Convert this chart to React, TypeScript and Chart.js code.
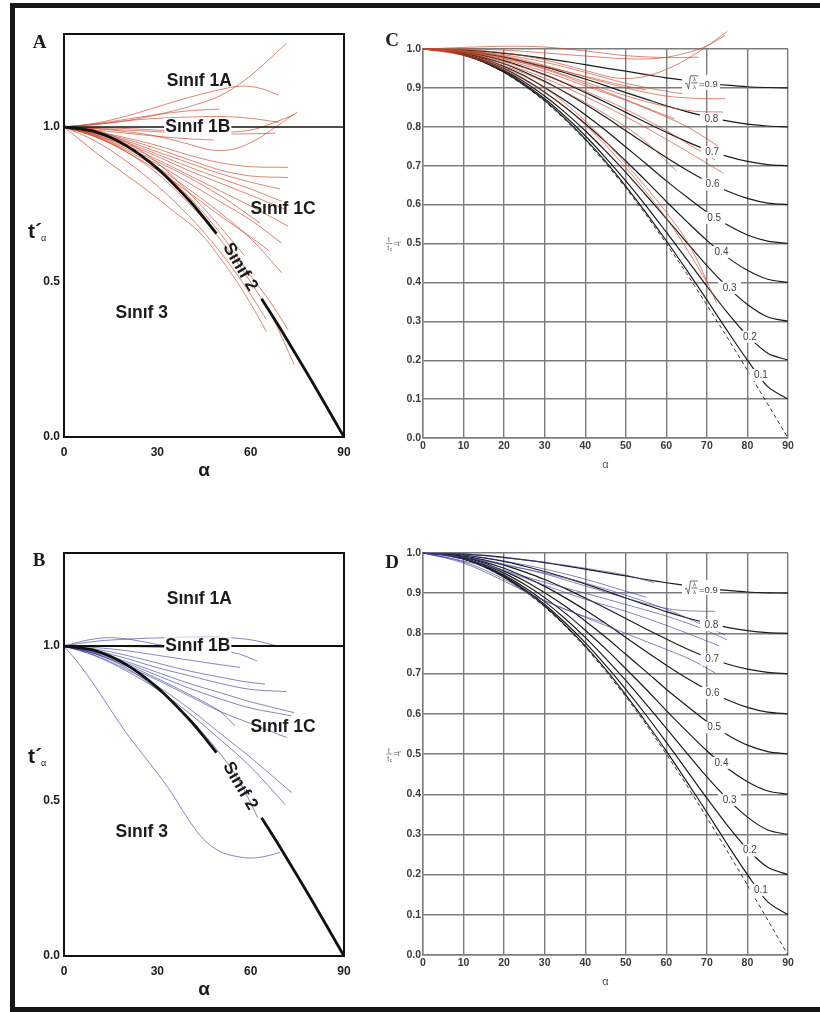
import React, { useEffect, useRef } from "react";
import { Chart, registerables } from "chart.js";

Chart.register(...registerables);

// ---------------- DATA ----------------
const X_TICKS_AB = [0, 30, 60, 90];
const Y_TICKS_AB = [0, 0.5, 1.0];
const X_TICKS_CD = [0, 10, 20, 30, 40, 50, 60, 70, 80, 90];
const Y_TICKS_CD = [0, 0.1, 0.2, 0.3, 0.4, 0.5, 0.6, 0.7, 0.8, 0.9, 1.0];

// reference family (panels C, D): t' against alpha for each sqrt(l2/l1)
const ALPHA_K = [0, 5, 10, 15, 20, 25, 30, 35, 40, 45, 50, 55, 60, 65, 70, 75, 80, 85, 90];
const K_09 = [1, 0.999, 0.997, 0.994, 0.989, 0.983, 0.976, 0.968, 0.96, 0.951, 0.943, 0.934, 0.926, 0.919, 0.912, 0.907, 0.903, 0.901, 0.9];
const K_08 = [1, 0.999, 0.995, 0.988, 0.979, 0.967, 0.954, 0.939, 0.923, 0.906, 0.888, 0.871, 0.854, 0.839, 0.826, 0.815, 0.807, 0.802, 0.8];
const K_07 = [1, 0.998, 0.992, 0.983, 0.97, 0.953, 0.934, 0.912, 0.888, 0.863, 0.837, 0.811, 0.786, 0.762, 0.741, 0.724, 0.711, 0.703, 0.7];
const K_06 = [1, 0.998, 0.99, 0.978, 0.962, 0.941, 0.917, 0.889, 0.858, 0.825, 0.79, 0.755, 0.721, 0.689, 0.66, 0.635, 0.616, 0.604, 0.6];
const K_05 = [1, 0.997, 0.989, 0.975, 0.955, 0.931, 0.901, 0.868, 0.831, 0.791, 0.748, 0.705, 0.661, 0.62, 0.581, 0.548, 0.522, 0.506, 0.5];
const K_04 = [1, 0.997, 0.987, 0.971, 0.95, 0.922, 0.889, 0.851, 0.808, 0.762, 0.712, 0.661, 0.608, 0.557, 0.508, 0.465, 0.431, 0.408, 0.4];
const K_03 = [1, 0.997, 0.986, 0.969, 0.945, 0.915, 0.879, 0.837, 0.79, 0.738, 0.683, 0.624, 0.564, 0.503, 0.443, 0.389, 0.343, 0.311, 0.3];
const K_02 = [1, 0.996, 0.985, 0.967, 0.942, 0.91, 0.872, 0.827, 0.777, 0.721, 0.661, 0.597, 0.529, 0.46, 0.39, 0.323, 0.263, 0.218, 0.2];
const K_01 = [1, 0.996, 0.985, 0.966, 0.94, 0.907, 0.868, 0.821, 0.769, 0.711, 0.647, 0.579, 0.507, 0.432, 0.355, 0.276, 0.2, 0.132, 0.1];
const K_DASH = [1, 0.996, 0.985, 0.966, 0.94, 0.906, 0.866, 0.819, 0.766, 0.707, 0.643, 0.574, 0.5, 0.423, 0.342, 0.259, 0.174, 0.087, 0];
const K_CURVES = [K_09, K_08, K_07, K_06, K_05, K_04, K_03, K_02, K_01];
const K_LABELS = ["0.9", "0.8", "0.7", "0.6", "0.5", "0.4", "0.3", "0.2", "0.1"];
const K_LABEL_ALPHA = [68.3, 71.1, 71.3, 71.4, 71.8, 73.6, 75.6, 80.6, 83.3];
const K_LABEL_T = [0.913, 0.82, 0.735, 0.652, 0.566, 0.478, 0.386, 0.26, 0.162];

// class boundaries (panels A, B)
const LINE_1B = [[0, 1], [90, 1]];
const LINE_2 = [[0, 1], [10, 0.985], [20, 0.94], [30, 0.866], [40, 0.766], [45, 0.707], [49, 0.656], [56, null], [63.5, 0.446], [70, 0.342], [80, 0.174], [90, 0]];

// class labels (alpha, t')
const LABEL_NAMES = ["Sınıf 1A", "Sınıf 1B", "Sınıf 1C", "Sınıf 2", "Sınıf 3"];
const LABEL_ALPHA = [43.5, 43, 70.4, 56.6, 25];
const LABEL_T_A = [1.149, 1.0, 0.735, 0.548, 0.4];
const LABEL_T_B = [1.152, 1.0, 0.738, 0.548, 0.398];

// panel A red fold curves [alpha, t']
const RED_A_UP = [
  [[0, 1], [10, 1.008], [20, 1.02], [30, 1.04], [40, 1.065], [50, 1.1], [58, 1.15], [65, 1.21], [71.5, 1.27]],
  [[0, 1], [10, 1.012], [20, 1.035], [30, 1.065], [40, 1.095], [50, 1.12], [57, 1.132], [63, 1.125], [69, 1.103]],
  [[0, 1], [10, 1.01], [20, 1.025], [30, 1.04], [40, 1.052], [50, 1.058]],
  [[0, 1], [10, 1.008], [20, 1.02], [30, 1.028], [40, 1.032], [50, 1.034], [60, 1.028], [69, 1.015]],
  [[0, 1], [10, 0.995], [20, 0.985], [30, 0.97], [40, 0.945], [48, 0.925], [55, 0.93], [62, 0.96], [68, 1.0], [75, 1.048]],
  [[0, 1], [10, 0.998], [20, 0.995], [30, 0.99], [40, 0.985], [50, 0.983], [60, 0.99], [67, 1.012], [74, 1.04]],
  [[0, 1], [10, 0.995], [20, 0.99], [30, 0.985], [40, 0.98], [50, 0.978], [60, 0.978], [68, 0.98]],
  [[0, 1], [10, 0.99], [20, 0.98], [30, 0.97], [40, 0.962], [48, 0.958]],
];
const RED_A_1C = [
  [[0, 1], [10, 0.985], [20, 0.965], [30, 0.94], [40, 0.91], [50, 0.885], [60, 0.872], [72, 0.87]],
  [[0, 1], [10, 0.983], [20, 0.96], [30, 0.93], [40, 0.895], [50, 0.862], [60, 0.842], [72, 0.837]],
  [[0, 1], [10, 0.98], [20, 0.955], [30, 0.92], [40, 0.885], [50, 0.85], [60, 0.822], [69.5, 0.8]],
  [[0, 1], [10, 0.98], [20, 0.95], [30, 0.912], [40, 0.872], [50, 0.835], [60, 0.8], [70, 0.76]],
  [[0, 1], [10, 0.978], [20, 0.945], [30, 0.905], [40, 0.86], [50, 0.82], [60, 0.78], [71, 0.735]],
  [[0, 1], [10, 0.975], [20, 0.94], [30, 0.895], [40, 0.845], [50, 0.795], [60, 0.745], [72, 0.68]],
  [[0, 1], [10, 0.975], [20, 0.935], [30, 0.888], [40, 0.838], [50, 0.78], [56, 0.74], [63, 0.69]],
  [[0, 1], [10, 0.972], [20, 0.93], [30, 0.88], [40, 0.82], [50, 0.76], [60, 0.7], [70, 0.625]],
  [[0, 1], [10, 0.97], [20, 0.925], [30, 0.87], [40, 0.8], [50, 0.725], [60, 0.64], [70, 0.53]],
  [[0, 1], [10, 0.968], [20, 0.92], [30, 0.86], [40, 0.79], [50, 0.715], [60, 0.645], [66, 0.6]],
];
const RED_A_2 = [
  [[0, 1], [10, 0.98], [20, 0.94], [30, 0.872], [40, 0.776], [50, 0.66], [60, 0.52], [66, 0.44], [72, 0.346]],
  [[0, 1], [10, 0.97], [20, 0.92], [30, 0.85], [40, 0.755], [50, 0.64], [60, 0.5], [67, 0.385], [74, 0.233]],
  [[0, 1], [11.6, 0.907], [20, 0.845], [27.6, 0.789], [35, 0.73], [43.7, 0.659], [50, 0.58], [54.4, 0.519], [60, 0.43], [65, 0.341]],
  [[0, 1], [10, 0.955], [20, 0.89], [30, 0.81], [40, 0.715], [50, 0.6], [58, 0.49], [65, 0.38]],
  [[0, 1], [10, 0.99], [20, 0.952], [30, 0.885], [40, 0.79], [50, 0.68], [58, 0.585]],
];

// panel C red fold curves
const RED_C = [
  [[0, 1], [10, 0.998], [20, 0.99], [30, 0.972], [40, 0.945], [48, 0.925], [55, 0.93], [62, 0.957], [68, 0.993], [75, 1.045]],
  [[0, 1], [10, 1.0], [20, 0.997], [30, 0.99], [40, 0.982], [50, 0.975], [58, 0.976], [65, 0.99], [70, 1.008], [74.5, 1.035]],
  [[0, 1], [10, 1.004], [20, 1.007], [30, 1.005], [40, 0.995], [50, 0.983], [60, 0.978], [68, 0.979]],
  [[0, 1], [10, 0.995], [20, 0.982], [30, 0.958], [40, 0.928], [50, 0.9], [60, 0.879], [68, 0.873], [74.5, 0.872]],
  [[0, 1], [10, 0.994], [20, 0.977], [30, 0.95], [40, 0.915], [50, 0.88], [60, 0.852], [67, 0.84], [74, 0.838]],
  [[0, 1], [10, 0.992], [20, 0.972], [30, 0.942], [40, 0.905], [50, 0.868], [60, 0.825], [66, 0.795], [73.5, 0.745]],
  [[0, 1], [10, 0.99], [20, 0.967], [30, 0.933], [40, 0.892], [50, 0.845], [60, 0.79], [66, 0.752], [72, 0.715]],
  [[0, 1], [10, 0.99], [20, 0.963], [30, 0.925], [40, 0.878], [50, 0.826], [60, 0.768], [67, 0.725], [74, 0.681]],
  [[0, 1], [10, 0.987], [20, 0.957], [30, 0.915], [40, 0.862], [50, 0.8], [56, 0.752], [62.5, 0.686]],
  [[0, 1], [10, 0.993], [20, 0.975], [30, 0.948], [40, 0.91], [50, 0.87], [56, 0.845], [62, 0.82]],
  [[0, 1], [10, 0.985], [20, 0.952], [30, 0.9], [40, 0.815], [50, 0.705], [60, 0.58], [66, 0.49], [72.4, 0.347]],
  [[0, 1], [10, 0.983], [20, 0.946], [30, 0.888], [40, 0.805], [50, 0.695], [60, 0.565], [66, 0.47], [70, 0.4]],
  [[0, 1], [10, 0.996], [20, 0.985], [30, 0.966], [40, 0.94], [50, 0.912], [58, 0.895], [64, 0.885]],
  [[0, 1], [10, 0.995], [20, 0.98], [30, 0.955], [40, 0.93], [50, 0.905], [55, 0.895]],
];

// panel B blue fold curves
const BLUE_B = [
  [[0, 1], [10, 1.015], [20, 1.022], [30, 1.026], [40, 1.028], [50, 1.028], [60, 1.02], [68.6, 1.0]],
  [[0, 1], [8, 1.02], [15, 1.027], [22, 1.02], [30, 1.005], [36, 0.995]],
  [[0, 1], [10, 1.0], [20, 0.998], [30, 0.996], [40, 0.992], [50, 0.985], [56, 0.975], [62, 0.952]],
  [[0, 1], [10, 0.995], [20, 0.985], [30, 0.97], [40, 0.955], [50, 0.94], [56.6, 0.931]],
  [[0, 1], [10, 0.99], [20, 0.97], [30, 0.945], [40, 0.92], [50, 0.9], [58, 0.885], [64.6, 0.877]],
  [[0, 1], [10, 0.985], [20, 0.96], [30, 0.93], [40, 0.905], [50, 0.88], [60, 0.86], [71.5, 0.853]],
  [[0, 1], [10, 0.98], [20, 0.95], [30, 0.915], [40, 0.88], [50, 0.85], [60, 0.82], [74, 0.785]],
  [[0, 1], [10, 0.978], [20, 0.945], [30, 0.905], [40, 0.865], [50, 0.83], [60, 0.8], [73, 0.775]],
  [[0, 1], [10, 0.975], [20, 0.94], [30, 0.895], [40, 0.845], [50, 0.79], [55, 0.742]],
  [[0, 1], [10, 0.975], [20, 0.935], [30, 0.89], [40, 0.84], [50, 0.79], [60, 0.75], [71.5, 0.705]],
  [[0, 1], [10, 0.97], [20, 0.925], [30, 0.87], [40, 0.8], [50, 0.72], [60, 0.64], [73.2, 0.527]],
  [[0, 1], [10, 0.968], [20, 0.92], [30, 0.86], [40, 0.785], [50, 0.7], [60, 0.61], [71, 0.489]],
  [[0, 1], [10, 0.975], [20, 0.93], [30, 0.86], [40, 0.77], [50, 0.655], [56, 0.57], [62.3, 0.446]],
  [[0, 1], [5, 0.94], [10, 0.87], [20, 0.72], [30, 0.59], [35, 0.52], [40, 0.44], [45, 0.375], [50, 0.338], [55, 0.322], [60, 0.316], [65, 0.322], [69.5, 0.335]],
];

// panel D blue fold curves
const BLUE_D = [
  [[0, 1], [10, 0.998], [20, 0.988], [30, 0.977], [40, 0.962], [50, 0.945], [57, 0.926]],
  [[0, 1], [10, 0.99], [20, 0.972], [30, 0.948], [40, 0.918], [50, 0.888], [60, 0.862], [66, 0.856], [72, 0.855]],
  [[0, 1], [10, 0.99], [20, 0.97], [30, 0.95], [40, 0.925], [50, 0.895], [60, 0.86], [67, 0.83], [74.5, 0.796]],
  [[0, 1], [10, 0.985], [20, 0.957], [30, 0.927], [40, 0.9], [50, 0.872], [60, 0.843], [68, 0.815], [75, 0.784]],
  [[0, 1], [10, 0.98], [20, 0.955], [30, 0.92], [40, 0.885], [50, 0.855], [60, 0.82], [66, 0.797], [73, 0.769]],
  [[0, 1], [10, 0.978], [20, 0.935], [26, 0.9], [40, 0.84], [50, 0.8], [60, 0.76], [66, 0.735], [72, 0.702]],
  [[0, 1], [10, 0.975], [20, 0.93], [27, 0.895], [35, 0.86], [45, 0.825]],
  [[0, 1], [10, 0.995], [20, 0.98], [30, 0.96], [40, 0.935], [50, 0.905], [55, 0.89]],
];

// ---------------- STYLE ----------------
const SANS = '"Liberation Sans", Arial, sans-serif';
const NARROW = '"Liberation Sans Narrow", "Liberation Sans", Arial, sans-serif';
const SERIF = '"Liberation Serif", "Times New Roman", serif';
const INK = "#1c1c1c";
const GRID = "#7c7c7c";
const RED = "rgba(198, 70, 42, 0.72)";
const BLUE = "rgba(62, 62, 150, 0.7)";
const LABEL_FONT = `bold 17.5px ${SANS}`;
const LETTER_FONT = `bold 19px ${SERIF}`;

// ---------------- HELPERS ----------------
function lineDs(points: any[], color: string, width: number, extra: any = {}) {
  return {
    data: points.map(([x, y]: any) => ({ x, y })),
    borderColor: color,
    borderWidth: width,
    pointRadius: 0,
    fill: false,
    tension: 0.35,
    spanGaps: false,
    ...extra,
  };
}

function familyDatasets() {
  const ds: any[] = K_CURVES.map((vals) =>
    lineDs(ALPHA_K.map((a, i) => [a, vals[i]]), INK, 1.2, { tension: 0.3 })
  );
  ds.push(lineDs(ALPHA_K.map((a, i) => [a, K_DASH[i]]), "#222", 0.9, { borderDash: [4, 3], tension: 0 }));
  return ds;
}

function drawTxt(ctx: any, text: string, px: number, py: number, font: string, color: string, rot = 0, bgx = -1, bgy = 0) {
  ctx.save();
  ctx.translate(px, py);
  if (rot) ctx.rotate((rot * Math.PI) / 180);
  ctx.font = font;
  ctx.textAlign = "center";
  ctx.textBaseline = "middle";
  if (bgx >= 0) {
    const w = ctx.measureText(text).width;
    const m = font.match(/([\d.]+)px/);
    const h = m ? parseFloat(m[1]) : 10;
    ctx.fillStyle = "#fff";
    ctx.fillRect(-w / 2 - bgx, -h * 0.5 - bgy, w + 2 * bgx, h + 2 * bgy);
  }
  ctx.fillStyle = color;
  ctx.fillText(text, 0, 0);
  ctx.restore();
}

function drawLam(ctx: any, px: number, py: number, val: string) {
  ctx.save();
  ctx.fillStyle = "#fff";
  ctx.fillRect(px - 18, py - 8, 38, 15);
  const x0 = px - 15;
  ctx.strokeStyle = "#444";
  ctx.lineWidth = 0.8;
  ctx.beginPath();
  ctx.moveTo(x0, py + 1);
  ctx.lineTo(x0 + 1.5, py);
  ctx.lineTo(x0 + 3.5, py + 6);
  ctx.lineTo(x0 + 5.5, py - 7);
  ctx.lineTo(x0 + 13, py - 7);
  ctx.stroke();
  ctx.beginPath();
  ctx.moveTo(x0 + 6.5, py);
  ctx.lineTo(x0 + 12.5, py);
  ctx.stroke();
  ctx.fillStyle = "#444";
  ctx.font = `6px ${SANS}`;
  ctx.textAlign = "center";
  ctx.textBaseline = "alphabetic";
  ctx.fillText("λ", x0 + 9.5, py - 1.5);
  ctx.fillText("λ", x0 + 9.5, py + 6);
  ctx.font = `9.5px ${NARROW}`;
  ctx.textAlign = "left";
  ctx.textBaseline = "middle";
  ctx.fillText("=" + val, x0 + 14, py + 2);
  ctx.restore();
}

function annotPlugin(items: any[], drawBox: boolean) {
  return {
    id: "annot",
    beforeDatasetsDraw(chart: any) {
      if (!drawBox) return;
      const { ctx, chartArea: ca } = chart;
      ctx.save();
      ctx.strokeStyle = "#111";
      ctx.lineWidth = 2;
      ctx.strokeRect(ca.left, ca.top, ca.right - ca.left, ca.bottom - ca.top);
      ctx.restore();
    },
    afterDatasetsDraw(chart: any) {
      const { ctx, chartArea: ca, scales } = chart;
      for (const it of items) {
        const px = it.rel ? ca.left + it.rel[0] : scales.x.getPixelForValue(it.x);
        const py = it.rel ? ca.top + it.rel[1] : scales.y.getPixelForValue(it.y);
        if (it.k === "lam") {
          drawLam(ctx, px, py, it.text);
        } else if (it.k === "tA") {
          ctx.save();
          ctx.fillStyle = INK;
          ctx.textAlign = "left";
          ctx.textBaseline = "alphabetic";
          ctx.font = `bold 21px ${SANS}`;
          ctx.fillText("t´", px, py);
          ctx.font = `9px ${SANS}`;
          ctx.fillText("α", px + 13, py + 3);
          ctx.restore();
        } else if (it.k === "ytC") {
          const yx = ca.left + it.dx;
          const yy = scales.y.getPixelForValue(it.y);
          ctx.save();
          ctx.fillStyle = "#555";
          ctx.strokeStyle = "#555";
          ctx.lineWidth = 0.6;
          ctx.font = `6.5px ${SANS}`;
          ctx.textAlign = "center";
          ctx.textBaseline = "alphabetic";
          ctx.fillText("t", yx, yy - 1.5);
          ctx.fillText("t", yx - 0.8, yy + 6.5);
          ctx.font = `4.5px ${SANS}`;
          ctx.fillText("c", yx + 1.8, yy + 7.5);
          ctx.beginPath();
          ctx.moveTo(yx - 3, yy);
          ctx.lineTo(yx + 3.5, yy);
          ctx.stroke();
          ctx.font = `7px ${SANS}`;
          ctx.textAlign = "left";
          ctx.textBaseline = "middle";
          ctx.fillText("=t'", yx + 4.5, yy + 0.5);
          ctx.restore();
        } else {
          drawTxt(ctx, it.text, px, py, it.font, it.color || INK, it.rot || 0, it.bgx ?? -1, it.bgy ?? 0);
        }
      }
    },
  };
}

function abConfig(datasets: any[], items: any[], pad: any) {
  return {
    type: "line",
    data: { datasets },
    options: {
      animation: false,
      responsive: false,
      devicePixelRatio: 1,
      events: [],
      layout: { padding: pad },
      plugins: { legend: { display: false }, tooltip: { enabled: false } },
      scales: {
        x: {
          type: "linear",
          min: 0,
          max: 90,
          afterBuildTicks: (s: any) => { s.ticks = X_TICKS_AB.map((v) => ({ value: v })); },
          afterFit: (s: any) => { s.height = 45; s.paddingLeft = 0; s.paddingRight = 0; },
          grid: { display: false, drawTicks: false },
          border: { display: false },
          ticks: { font: { family: SANS, size: 12, weight: "bold" }, color: INK, padding: 8, maxRotation: 0, autoSkip: false },
          title: { display: true, text: "α", font: { family: SANS, size: 19, weight: "bold" }, color: INK, padding: 0 },
        },
        y: {
          type: "linear",
          min: 0,
          max: 1.3,
          afterBuildTicks: (s: any) => { s.ticks = Y_TICKS_AB.map((v) => ({ value: v })); },
          afterFit: (s: any) => { s.width = 50; s.paddingTop = 0; s.paddingBottom = 0; },
          grid: { display: false, drawTicks: false },
          border: { display: false },
          ticks: { font: { family: SANS, size: 12, weight: "bold" }, color: INK, padding: 4, callback: (v: any) => Number(v).toFixed(1) },
        },
      },
    },
    plugins: [annotPlugin(items, true)],
  };
}

function cdConfig(datasets: any[], items: any[], pad: any) {
  return {
    type: "line",
    data: { datasets },
    options: {
      animation: false,
      responsive: false,
      devicePixelRatio: 1,
      events: [],
      layout: { padding: pad },
      plugins: { legend: { display: false }, tooltip: { enabled: false } },
      scales: {
        x: {
          type: "linear",
          min: 0,
          max: 90,
          afterBuildTicks: (s: any) => { s.ticks = X_TICKS_CD.map((v) => ({ value: v })); },
          afterFit: (s: any) => { s.height = 34; s.paddingLeft = 0; s.paddingRight = 0; },
          grid: { color: GRID, lineWidth: 1.4, drawTicks: false },
          border: { color: GRID, width: 1.4 },
          ticks: { font: { family: NARROW, size: 10.5, weight: "bold" }, color: "#3a3a3a", padding: 2, maxRotation: 0, autoSkip: false },
          title: { display: true, text: "α", font: { family: SANS, size: 11 }, color: "#555", padding: 0 },
        },
        y: {
          type: "linear",
          min: 0,
          max: 1,
          afterBuildTicks: (s: any) => { s.ticks = Y_TICKS_CD.map((v) => ({ value: v })); },
          afterFit: (s: any) => { s.width = 43; s.paddingTop = 0; s.paddingBottom = 0; },
          grid: { color: GRID, lineWidth: 1.4, drawTicks: false },
          border: { color: GRID, width: 1.4 },
          ticks: { font: { family: NARROW, size: 10.5, weight: "bold" }, color: "#3a3a3a", padding: 2, callback: (v: any) => Number(v).toFixed(1) },
        },
      },
    },
    plugins: [annotPlugin(items, false)],
  };
}

function classItems(tvals: number[]) {
  return LABEL_NAMES.map((name, i) => ({
    x: LABEL_ALPHA[i],
    y: tvals[i],
    text: name,
    font: LABEL_FONT,
    rot: i === 3 ? 60 : 0,
    bgx: i === 1 ? 1 : -1,
    bgy: 0,
  }));
}

function familyItems() {
  return K_LABELS.map((lab, i) =>
    i === 0
      ? { k: "lam", x: K_LABEL_ALPHA[i], y: K_LABEL_T[i], text: lab }
      : { x: K_LABEL_ALPHA[i], y: K_LABEL_T[i], text: lab, font: `10px ${NARROW}`, color: "#444", bgx: 4.5, bgy: 1 }
  );
}

const redOpts = { clip: false };

function makeA() {
  const ds = [
    lineDs(LINE_2, "#111", 2.8, { tension: 0.3 }),
    lineDs(LINE_1B, "#111", 1.6, { tension: 0 }),
    ...RED_A_UP.map((c) => lineDs(c, RED, 0.9, redOpts)),
    ...RED_A_1C.map((c) => lineDs(c, RED, 0.9, redOpts)),
    ...RED_A_2.map((c) => lineDs(c, RED, 0.9, redOpts)),
  ];
  const items = [
    ...classItems(LABEL_T_A),
    { rel: [-24.5, 9.5], text: "A", font: LETTER_FONT },
    { k: "tA", rel: [-36, 204] },
  ];
  return abConfig(ds, items, { top: 26, left: 0, right: 40, bottom: 16 });
}

function makeB() {
  const ds = [
    lineDs(LINE_2, "#111", 2.8, { tension: 0.3 }),
    lineDs(LINE_1B, "#111", 1.8, { tension: 0 }),
    ...BLUE_B.map((c) => lineDs(c, BLUE, 0.9, redOpts)),
  ];
  const items = [
    ...classItems(LABEL_T_B),
    { rel: [-25, 8.5], text: "B", font: LETTER_FONT },
    { k: "tA", rel: [-36, 210] },
  ];
  return abConfig(ds, items, { top: 45, left: 0, right: 40, bottom: 7 });
}

function makeC() {
  const ds = [...RED_C.map((c) => lineDs(c, RED, 0.9, redOpts)), ...familyDatasets()];
  const items = [
    ...familyItems(),
    { rel: [-31, -7.5], text: "C", font: LETTER_FONT },
    { k: "ytC", dx: -34, y: 0.5 },
  ];
  return cdConfig(ds, items, { top: 41, left: 0, right: 22, bottom: 26 });
}

function makeD() {
  const ds = [...BLUE_D.map((c) => lineDs(c, BLUE, 0.9, redOpts)), ...familyDatasets()];
  const items = [
    ...familyItems(),
    { rel: [-31, 10.5], text: "D", font: LETTER_FONT },
    { k: "ytC", dx: -34, y: 0.5 },
  ];
  return cdConfig(ds, items, { top: 45, left: 0, right: 22, bottom: 9 });
}

function Panel(props: { left: number; top: number; width: number; height: number; make: () => any }) {
  const ref = useRef<HTMLCanvasElement>(null);
  useEffect(() => {
    const chart = new Chart(ref.current as any, props.make());
    return () => chart.destroy();
  }, []);
  return (
    <canvas
      ref={ref}
      width={props.width}
      height={props.height}
      style={{ position: "absolute", left: props.left, top: props.top, width: props.width, height: props.height }}
    />
  );
}

export default function App() {
  return (
    <div style={{ position: "absolute", left: 0, top: 0, width: 820, height: 1012, overflow: "hidden", background: "#fff" }}>
      <Panel left={14} top={8} width={370} height={490} make={makeA} />
      <Panel left={14} top={508} width={370} height={500} make={makeB} />
      <Panel left={380} top={8} width={430} height={490} make={makeC} />
      <Panel left={380} top={508} width={430} height={490} make={makeD} />
      <div
        style={{
          position: "absolute",
          left: 10,
          top: 3,
          width: 830,
          height: 999,
          border: "5px solid #161616",
          pointerEvents: "none",
        }}
      />
    </div>
  );
}
